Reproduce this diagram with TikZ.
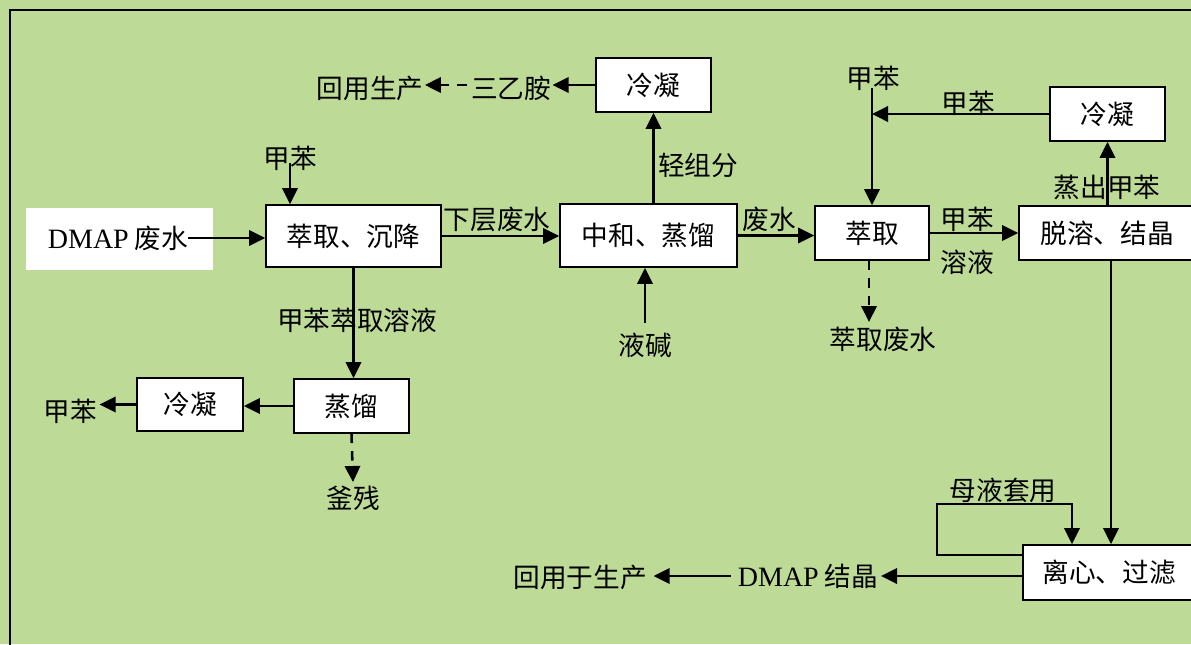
\documentclass[tikz,border=0pt]{standalone}
\usepackage{fontspec}
\setmainfont{Liberation Serif}
\newfontfamily\cjk{Noto Sans CJK SC}
\usetikzlibrary{arrows.meta}
\definecolor{bg}{RGB}{189,219,151}
\begin{document}
\begin{tikzpicture}[x=0.75pt,y=-0.75pt,
  every node/.style={font=\cjk\fontsize{20}{24}\selectfont},
  box/.style={draw, fill=white, line width=1.3pt, inner sep=0pt},
  lbl/.style={inner sep=0pt},
  lat/.style={font=\rmfamily\fontsize{21}{24}\selectfont},
  arr/.style={line width=1.9pt, -{Triangle[length=12pt,width=11.5pt]}},
  darr/.style={arr, dash pattern=on 7pt off 6pt}]
\useasboundingbox (0,0) rectangle (1191,644);
\fill[bg] (0,0) rectangle (1191,644);
\draw[line width=1.4pt] (10,650) -- (10,10) -- (1200,10);

% boxes
\node[fill=white, minimum width=140.25pt, minimum height=46.5pt, inner sep=0pt] (w) at (119.5,239) {};
\node[lbl] (dmap) at (118,238) {{\rmfamily\fontsize{21}{24}\selectfont DMAP} 废水};
\node[box, minimum width=131.25pt, minimum height=46.5pt] (b1) at (353.5,236) {萃取、沉降};
\node[box, minimum width=132.75pt, minimum height=47.25pt] (b2) at (648.5,235.5) {中和、蒸馏};
\node[box, minimum width=86.25pt, minimum height=40.5pt] (c1) at (653.5,85) {冷凝};
\node[box, minimum width=85.5pt, minimum height=40.5pt] (b3) at (872,233) {萃取};
\node[box, minimum width=132pt, minimum height=40.5pt] (b4) at (1107,233) {脱溶、结晶};
\node[box, minimum width=86.25pt, minimum height=40.5pt] (c2) at (1107.5,114) {冷凝};
\node[box, minimum width=86.25pt, minimum height=40.5pt] (d1) at (351.5,406) {蒸馏};
\node[box, minimum width=79.5pt, minimum height=39.75pt] (c3) at (190,404.5) {冷凝};
\node[box, minimum width=129pt, minimum height=41.25pt] (b5) at (1109,572.5) {离心、过滤};

% labels
\node[lbl] (t1) at (290,158) {甲苯};
\node[lbl] (hy1) at (370,88) {回用生产};
\node[lbl] (sya) at (511,88) {三乙胺};
\node[lbl] (qzf) at (698,165) {轻组分};
\node[lbl] at (497,219) {下层废水};
\node[lbl] (yj) at (645,345) {液碱};
\node[lbl] at (769,219) {废水};
\node[lbl] (cqfs) at (883,339) {萃取废水};
\node[lbl] at (967,219) {甲苯};
\node[lbl] at (967,262) {溶液};
\node[lbl] at (1107,187) {蒸出甲苯};
\node[lbl] at (968,103) {甲苯};
\node[lbl] (t2) at (873,78) {甲苯};
\node[lbl] at (357,320) {甲苯萃取溶液};
\node[lbl] (t3) at (70,411) {甲苯};
\node[lbl] (fc) at (353,498) {釜残};
\node[lbl] at (1003,490) {母液套用};
\node[lbl] (jj) at (808,576) {{\rmfamily\fontsize{21}{24}\selectfont DMAP} 结晶};
\node[lbl] (hy2) at (580,577) {回用于生产};

\coordinate (t1s) at (290,163);
\coordinate (t2s) at (872,88);
\coordinate (yjtop) at (645,323);
\coordinate (v) at (1111,0);
\coordinate (m1) at (937,555);
\coordinate (m2) at (937,504);
\coordinate (m3) at (1072,504);
\coordinate (dd) at (869,322);
\coordinate (fd) at (353,482);

% connectors
\draw[arr] (dmap.east) -- (b1.west |- dmap.east);
\draw[arr] (t1s) -- (b1.north -| t1s);
\draw[arr] (b1.east) -- (b2.west |- b1.east);
\draw[arr] (b1.south) -- (d1.north -| b1.south);
\draw[arr] (d1.west) -- (c3.east |- d1.west);
\draw[arr] (c3.west) -- ([xshift=2pt]t3.east |- c3.west);
\draw[darr] (d1.south) -- (fd);
\draw[arr] (b2.north -| c1.south) -- (c1.south);
\draw[arr] (yjtop) -- (b2.south -| yjtop);
\draw[arr] (c1.west) -- ([xshift=1pt]sya.east |- c1.west);
\draw[darr] ([xshift=-3pt]sya.west |- c1.west) -- ([xshift=1pt]hy1.east |- c1.west);
\draw[arr] (b2.east) -- (b3.west |- b2.east);
\draw[darr] (b3.south -| dd) -- (dd);
\draw[arr] (b3.east) -- (b4.west |- b3.east);
\draw[arr] (b4.north -| c2.south) -- (c2.south);
\draw[arr] (c2.west) -- (b3.north |- c2.west);
\draw[arr] (t2s) -- (b3.north -| t2s);
\draw[arr] (b4.south -| v) -- (b5.north -| v);
\draw[arr] (b5.west |- m1) -- (m1) -- (m2) -- (m3) -- (b5.north -| m3);
\draw[arr] (b5.west |- jj.east) -- ([xshift=2pt]jj.east);
\draw[arr] ([xshift=-5pt]jj.west) -- ([xshift=5pt]hy2.east |- jj.west);
\end{tikzpicture}
\end{document}
